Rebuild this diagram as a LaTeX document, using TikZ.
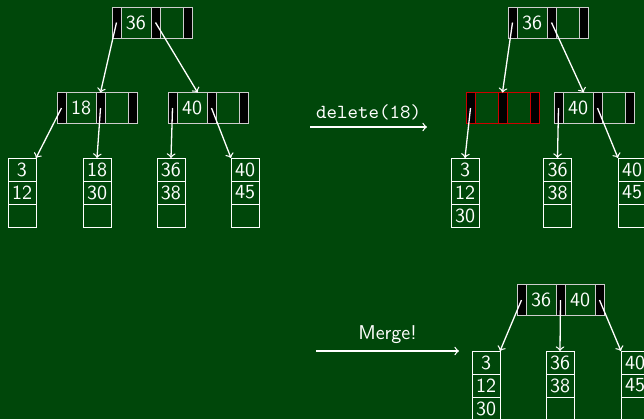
\documentclass[tikz,border=0pt]{standalone}
\usepackage{amsmath,amssymb}
\usepackage{tikz}
\usetikzlibrary{positioning}
\definecolor{board}{RGB}{0,71,10}
\definecolor{edge}{RGB}{205,205,205}
\definecolor{hot}{RGB}{205,0,0}

\begin{document}
\begin{tikzpicture}[x=0.5pt, y=-0.5pt, every node/.style={font=\sffamily, text=white},
	ptr/.style={draw=edge, fill=black, minimum width=4.5pt, minimum height=15.5pt, inner sep=0pt, outer sep=0pt},
	key/.style={draw=edge, minimum width=15pt, minimum height=15.5pt, inner sep=0pt, outer sep=0pt},
	gap/.style={key, minimum width=11.5pt},
	cell/.style={draw=white, minimum width=14pt, minimum height=11.5pt, inner sep=0pt, outer sep=0pt},
	link/.style={draw=white, line width=0.65pt, ->}]
	\fill[board] (0,0) rectangle (644,419);
	\useasboundingbox (0,0) rectangle (644,419);

	% before
	\node[ptr, anchor=west] (Lr0) at (112,22.5) {};
	\node[key, right=0pt of Lr0] (Lr1) {36};
	\node[ptr, right=0pt of Lr1] (Lr2) {};
	\node[gap, right=0pt of Lr2] (Lr3) {};
	\node[ptr, right=0pt of Lr3] (Lr4) {};

	\node[ptr, anchor=west] (Lp0) at (57,108) {};
	\node[key, right=0pt of Lp0] (Lp1) {18};
	\node[ptr, right=0pt of Lp1] (Lp2) {};
	\node[gap, right=0pt of Lp2] (Lp3) {};
	\node[ptr, right=0pt of Lp3] (Lp4) {};

	\node[ptr, anchor=west] (Lq0) at (168,108) {};
	\node[key, right=0pt of Lq0] (Lq1) {40};
	\node[ptr, right=0pt of Lq1] (Lq2) {};
	\node[gap, right=0pt of Lq2] (Lq3) {};
	\node[ptr, right=0pt of Lq3] (Lq4) {};

	\foreach \i/\x/\a/\b in {1/22/3/12, 2/97/18/30, 3/171/36/38, 4/245/40/45} {
		\node[cell, anchor=north] (Lu\i) at (\x,158) {\a};
		\node[cell, below=0pt of Lu\i] (Lv\i) {\b};
		\node[cell, below=0pt of Lv\i] (Lw\i) {};
	}

	\draw[link] (Lr0.center) -- (Lp2.north);
	\draw[link] (Lr2.center) -- (Lq1.70);
	\draw[link] (Lp0.center) -- (Lu1.north east);
	\draw[link] (Lp2.center) -- (Lu2.north);
	\draw[link] (Lq0.center) -- (Lu3.north);
	\draw[link] (Lq2.center) -- (Lu4.north west);

	% delete
	\coordinate (d1) at (310,127);
	\coordinate (d2) at (427,127);
	\draw[link] (d1) -- (d2) node[midway, above] (dl) {\ttfamily delete(18)};

	\node[ptr, anchor=west] (Rr0) at (508,22.5) {};
	\node[key, right=0pt of Rr0] (Rr1) {36};
	\node[ptr, right=0pt of Rr1] (Rr2) {};
	\node[gap, right=0pt of Rr2] (Rr3) {};
	\node[ptr, right=0pt of Rr3] (Rr4) {};

	\node[ptr, draw=hot, anchor=west] (Rp0) at (466,108) {};
	\node[gap, draw=hot, right=0pt of Rp0] (Rp1) {};
	\node[ptr, draw=hot, right=0pt of Rp1] (Rp2) {};
	\node[gap, draw=hot, right=0pt of Rp2] (Rp3) {};
	\node[ptr, draw=hot, right=0pt of Rp3] (Rp4) {};

	\node[ptr, anchor=west] (Rq0) at (554,108) {};
	\node[key, right=0pt of Rq0] (Rq1) {40};
	\node[ptr, right=0pt of Rq1] (Rq2) {};
	\node[gap, right=0pt of Rq2] (Rq3) {};
	\node[ptr, right=0pt of Rq3] (Rq4) {};

	\foreach \i/\x/\a/\b/\c in {1/465/3/12/30, 2/557.5/36/38/{}, 3/632/40/45/{}} {
		\node[cell, anchor=north] (Ru\i) at (\x,158) {\a};
		\node[cell, below=0pt of Ru\i] (Rv\i) {\b};
		\node[cell, below=0pt of Rv\i] (Rw\i) {\c};
	}

	\draw[link] (Rr0.center) -- (Rp2.north);
	\draw[link] (Rr2.center) -- (Rq1.70);
	\draw[link] (Rp0.center) -- (Ru1.north);
	\draw[link] (Rq0.center) -- (Ru2.north);
	\draw[link] (Rq2.center) -- (Ru3.north west);

	% merge
	\coordinate (m1) at (316,351);
	\coordinate (m2) at (459,351);
	\draw[link] (m1) -- (m2) node[midway, above] (ml) {Merge!};

	\node[ptr, anchor=west] (Mr0) at (517,300) {};
	\node[key, right=0pt of Mr0] (Mr1) {36};
	\node[ptr, right=0pt of Mr1] (Mr2) {};
	\node[key, right=0pt of Mr2] (Mr3) {40};
	\node[ptr, right=0pt of Mr3] (Mr4) {};

	\foreach \i/\x/\a/\b/\c in {1/486/3/12/30, 2/560/36/38/{}, 3/635/40/45/{}} {
		\node[cell, anchor=north] (Mu\i) at (\x,351) {\a};
		\node[cell, below=0pt of Mu\i] (Mv\i) {\b};
		\node[cell, below=0pt of Mv\i] (Mw\i) {\c};
	}

	\draw[link] (Mr0.center) -- (Mu1.north east);
	\draw[link] (Mr2.center) -- (Mu2.north);
	\draw[link] (Mr4.center) -- (Mu3.north west);
\end{tikzpicture}
\end{document}
